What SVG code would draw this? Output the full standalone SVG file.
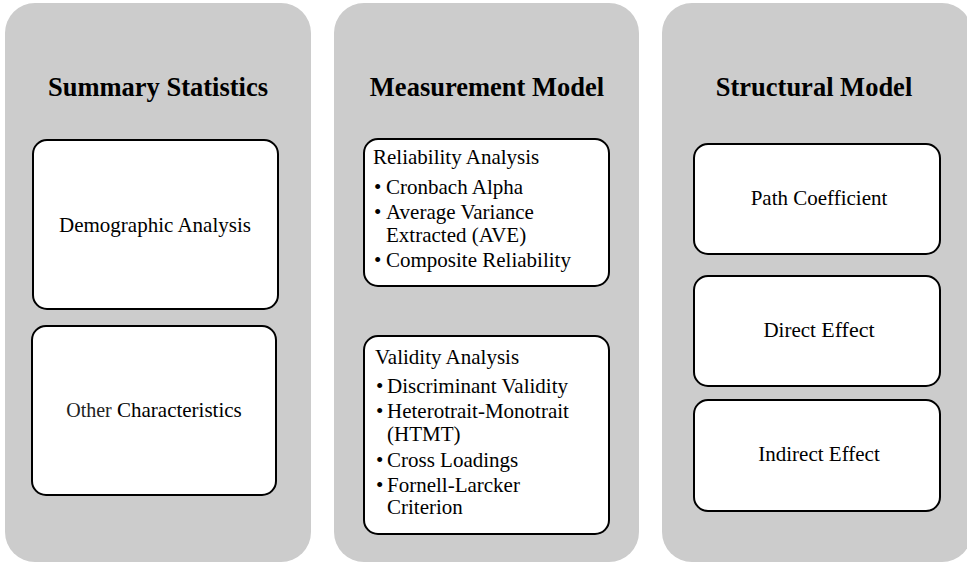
<svg xmlns="http://www.w3.org/2000/svg" width="967" height="563" viewBox="0 0 967 563">
<style>
.panel{fill:#cccccc;stroke:none}
.box{fill:#ffffff;stroke:#000000;stroke-width:2}
.title{font-family:"Liberation Serif","Times New Roman",serif;font-weight:bold;font-size:26.5px;fill:#000;text-anchor:middle}
.lbl{font-family:"Liberation Serif","Times New Roman",serif;font-size:21px;fill:#000}
.c{text-anchor:middle}
</style>
<rect width="967" height="563" fill="#ffffff"/>
<g id="summary-statistics">
<rect class="panel" x="5" y="3" width="306" height="559" rx="30" ry="30"/>
<text class="title" x="158" y="96">Summary Statistics</text>
</g>
<g id="demographic-analysis">
<rect class="box" x="33" y="140" width="245" height="169" rx="14" ry="14"/>
<text class="lbl c" x="155" y="232">Demographic Analysis</text>
</g>
<g id="other-characteristics">
<rect class="box" x="32" y="326" width="244" height="169" rx="14" ry="14"/>
<text class="lbl c" x="154" y="417"><tspan font-size="20px" fill="#222">Other</tspan> Characteristics</text>
</g>
<g id="measurement-model">
<rect class="panel" x="334" y="3" width="305" height="559" rx="30" ry="30"/>
<text class="title" x="487" y="96">Measurement Model</text>
</g>
<g id="reliability-analysis">
<rect class="box" x="364" y="139" width="245" height="147" rx="14" ry="14"/>
<text class="lbl" x="373" y="164">Reliability Analysis</text>
<text class="lbl" x="374" y="194">•</text><text class="lbl" x="386" y="194">Cronbach Alpha</text>
<text class="lbl" x="374" y="219">•</text><text class="lbl" x="386" y="219">Average Variance</text>
<text class="lbl" x="386" y="242">Extracted (AVE)</text>
<text class="lbl" x="374" y="267">•</text><text class="lbl" x="386" y="267">Composite Reliability</text>
</g>
<g id="validity-analysis">
<rect class="box" x="364" y="336" width="245" height="198" rx="14" ry="14"/>
<text class="lbl" x="375" y="364">Validity Analysis</text>
<text class="lbl" x="376" y="393">•</text><text class="lbl" x="387" y="393">Discriminant Validity</text>
<text class="lbl" x="376" y="418">•</text><text class="lbl" x="387" y="418">Heterotrait-Monotrait</text>
<text class="lbl" x="387" y="441">(HTMT)</text>
<text class="lbl" x="376" y="467">•</text><text class="lbl" x="387" y="467">Cross Loadings</text>
<text class="lbl" x="376" y="492">•</text><text class="lbl" x="387" y="492">Fornell-Larcker</text>
<text class="lbl" x="387" y="514">Criterion</text>
</g>
<g id="structural-model">
<rect class="panel" x="662" y="3" width="310" height="559" rx="30" ry="30"/>
<text class="title" x="814" y="96">Structural Model</text>
</g>
<g id="path-coefficient">
<rect class="box" x="694" y="144" width="246" height="110" rx="14" ry="14"/>
<text class="lbl c" x="819" y="205">Path Coefficient</text>
</g>
<g id="direct-effect">
<rect class="box" x="694" y="276" width="246" height="110" rx="14" ry="14"/>
<text class="lbl c" x="819" y="337">Direct <tspan font-size="22px">Effect</tspan></text>
</g>
<g id="indirect-effect">
<rect class="box" x="694" y="400" width="246" height="111" rx="14" ry="14"/>
<text class="lbl c" x="819" y="461">Indirect Effect</text>
</g>
<g id="connectors"></g>
</svg>
